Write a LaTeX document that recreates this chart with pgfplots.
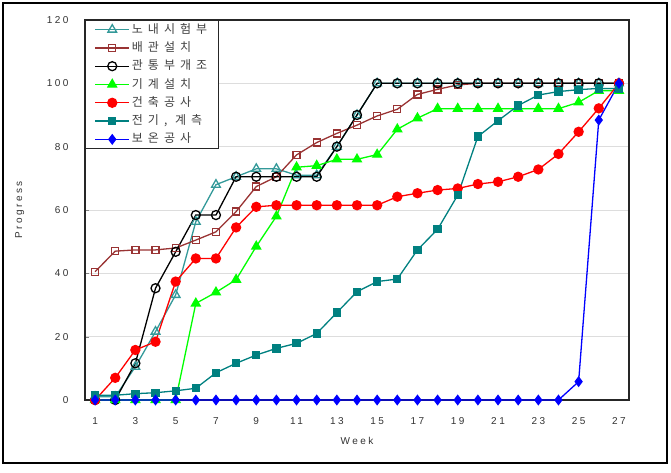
\documentclass[border=0pt]{standalone}
\usepackage{fontspec}
\setmainfont{Liberation Sans}
\newfontfamily\kr[LetterSpace=42]{Noto Sans CJK KR}
\newfontfamily\lbl[LetterSpace=25]{Liberation Sans}
\usepackage{pgfplots}
\usepackage{pgfplotstable}
\pgfplotsset{compat=1.18}
\definecolor{tri}{HTML}{339999}
\definecolor{sqr}{HTML}{993333}
\definecolor{grn}{HTML}{00FF00}
\definecolor{tsq}{HTML}{008080}
\definecolor{gridc}{HTML}{DDDDDD}
\pgfplotstableread{
week tri sq circ grn red tsq blue
1 1 40.5 0 0 0 1.5 0
2 1 47 0 0 7 1.5 0
3 10.5 47.4 11.6 0 15.8 2 0
4 21.6 47.4 35.3 0 18.4 2.3 0
5 33.2 48 46.8 0 37.4 2.9 0
6 56.3 50.5 58.4 30.5 44.7 3.7 0
7 68 53.1 58.4 34 44.7 8.6 0
8 70.5 59.5 70.5 38 54.5 11.6 0
9 73 67.4 70.5 48.5 61 14.2 0
10 73 70.5 70.5 58 61.5 16.3 0
11 71 77.4 70.5 73.5 61.5 17.9 0
12 71 81.3 70.5 74 61.5 21 0
13 80 84.2 80 76 61.5 27.6 0
14 90 86.8 90 76 61.5 34.2 0
15 100 89.7 100 77.5 61.5 37.4 0
16 100 91.8 100 85.5 64.2 38.2 0
17 100 96.5 100 89 65.3 47.4 0
18 100 98.1 100 92 66.3 53.9 0
19 100 99.5 100 92 66.8 64.7 0
20 100 100 100 92 68.2 83.2 0
21 100 100 100 92 68.9 88.2 0
22 100 100 100 92 70.5 93 0
23 100 100 100 92 72.8 96.3 0
24 100 100 100 92 77.7 97.4 0
25 100 100 100 94 84.7 98 5.8
26 100 100 100 97.7 92.1 98.4 88.4
27 100 100 100 97.7 100 98.4 100
}\data
\begin{document}
\begin{tikzpicture}[x=1pt,y=1pt]
\useasboundingbox (0,0) rectangle (671,472);
\draw[line width=1.3pt] (3,9) rectangle (667,469);
\begin{axis}[
  at={(85pt,72pt)}, anchor=south west,
  scale only axis, width=544pt, height=380pt,
  xmin=0.5, xmax=27.5, ymin=0, ymax=120,
  xtick={1,3,...,27}, xtick style={draw=none},
  minor xtick={1.5,2.5,...,26.5},
  minor tick length=4pt,
  ytick={0,20,...,120},
  major tick length=4pt,
  tick align=inside, xtick pos=bottom, ytick pos=left,
  ymajorgrids, grid style={gridc, line width=0.8pt},
  axis line style={line width=1.2pt, black!85},
  /pgf/number format/assume math mode=true,
  tick label style={font=\lbl\fontsize{10}{12}\selectfont, black!80},
  xticklabel style={yshift=-14pt},
  yticklabel style={xshift=-13pt},
  xlabel={Week}, ylabel={Progress},
  label style={font=\lbl\fontsize{10}{12}\selectfont, black!80},
  xlabel style={at={(axis description cs:0.5,-0.108)}, anchor=center},
  ylabel style={at={(axis description cs:-0.12,0.5)}, anchor=center},
  every axis plot/.append style={line width=1.3pt},
  legend style={at={(0,1)}, anchor=north west, draw=black!85, line width=1.2pt,
    font=\kr\fontsize{12}{12}\selectfont, text=black!75,
    inner xsep=9pt, inner ysep=2.5pt, row sep=5.3pt,
    nodes={inner xsep=2pt, inner ysep=1pt, text height=9pt, text depth=2pt}},
  legend cell align=left,
  legend image code/.code={\draw[mark repeat=2,mark phase=2] plot coordinates {(0pt,0pt)(17pt,0pt)(34pt,0pt)};},
]
\addplot[color=tri, mark=triangle, mark size=5pt, mark options={solid}] table[x=week,y=tri] {\data};
\addlegendentry{노내시험부}
\addplot[color=sqr, mark=square, mark size=3.5pt] table[x=week,y=sq] {\data};
\addlegendentry{배관설치}
\addplot[color=black, mark=o, mark size=4.5pt] table[x=week,y=circ] {\data};
\addlegendentry{관통부개조}
\addplot[color=grn, mark=triangle*, mark size=5pt] table[x=week,y=grn] {\data};
\addlegendentry{기계설치}
\addplot[color=red, mark=*, mark size=4.5pt] table[x=week,y=red] {\data};
\addlegendentry{건축공사}
\addplot[color=tsq, mark=square*, mark size=3.5pt] table[x=week,y=tsq] {\data};
\addlegendentry{전기, 계측}
\addplot[color=blue, mark=diamond*, mark size=4.5pt] table[x=week,y=blue] {\data};
\addlegendentry{보온공사}
\end{axis}
\end{tikzpicture}
\end{document}
